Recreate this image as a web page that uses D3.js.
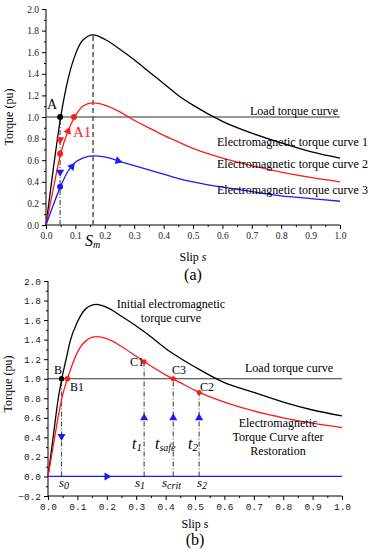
<!DOCTYPE html>
<html>
<head>
<meta charset="utf-8">
<script src="https://cdn.jsdelivr.net/npm/d3@7"></script>
<style>
body { margin: 0; background: #fff; }
svg { display: block; }
</style>
</head>
<body>
<script>
// (a) torque-slip curves
var slipA = [0, 0.02, 0.05, 0.075, 0.1, 0.125, 0.16, 0.2, 0.25, 0.3, 0.35, 0.4, 0.45, 0.5, 0.6, 0.7, 0.8, 0.9, 1.0];
var curve1A = [0, 0.42, 1.0, 1.35, 1.58, 1.71, 1.76, 1.72, 1.63, 1.53, 1.42, 1.31, 1.2, 1.11, 0.96, 0.85, 0.76, 0.68, 0.62];
var curve2A = [0, 0.27, 0.66, 0.87, 1.01, 1.1, 1.13, 1.11, 1.05, 0.97, 0.9, 0.83, 0.77, 0.71, 0.62, 0.55, 0.49, 0.44, 0.40];
var curve3A = [0, 0.15, 0.36, 0.5, 0.58, 0.62, 0.64, 0.63, 0.59, 0.55, 0.51, 0.47, 0.43, 0.40, 0.35, 0.31, 0.27, 0.245, 0.22];

// (b) initial and restored curves
var slipB = [0, 0.02, 0.034, 0.047, 0.066, 0.075, 0.1, 0.13, 0.165, 0.2, 0.25, 0.3, 0.35, 0.4, 0.45, 0.5, 0.6, 0.7, 0.8, 0.9, 1.0];
var initialB = [0, 0.46, 0.78, 1.0, 1.26, 1.38, 1.58, 1.72, 1.76, 1.73, 1.64, 1.54, 1.43, 1.31, 1.21, 1.12, 0.96, 0.86, 0.76, 0.68, 0.62];
var restoredB = [0, 0.35, 0.6, 0.8, 1.0, 1.08, 1.27, 1.39, 1.43, 1.41, 1.33, 1.23, 1.13, 1.04, 0.96, 0.88, 0.76, 0.67, 0.6, 0.545, 0.50];
var zeroB = [0, 0];
var zeroSlipB = [0, 1];

var loadTorque = 1.0;
var sm = 0.16;
var sA = 0.048;
var sB = { s0: 0.046, s1: 0.327, scrit: 0.426, s2: 0.514 };

var xTicks = d3.range(0, 1.01, 0.1);
var xMinor = d3.range(0.05, 1, 0.1);
var yTicksA = d3.range(0, 2.01, 0.2);
var yMinorA = d3.range(0.1, 2, 0.2);
var yTicksB = d3.range(-0.2, 2.01, 0.2);
var yMinorB = d3.range(-0.1, 2, 0.2);

var colors = { black: '#000', red: '#ff1a1a', blue: '#1a1aff', load: '#333', guide: '#555' };

var svg = d3.select('body').append('svg')
	.attr('width', 378)
	.attr('height', 550)
	.style('font-family', '"Liberation Serif", serif');

function drawAxes(g, x, y, yTicks, yMinor, font, fontSize) {
	var fmt = function (d) { return d3.format('.1f')(Math.abs(d) < 1e-9 ? 0 : d).replace('-', '\u2212'); };
	var y0 = y.range()[0];
	var x0 = x.range()[0];

	var xa = g.append('g').attr('transform', 'translate(0,' + y0 + ')')
		.call(d3.axisBottom(x).tickValues(xTicks).tickSize(4).tickFormat(fmt));
	g.append('g').attr('transform', 'translate(0,' + y0 + ')')
		.call(d3.axisBottom(x).tickValues(xMinor).tickSize(2).tickFormat(''))
		.select('.domain').remove();
	var ya = g.append('g').attr('transform', 'translate(' + x0 + ',0)')
		.call(d3.axisLeft(y).tickValues(yTicks).tickSize(4).tickFormat(fmt));
	g.append('g').attr('transform', 'translate(' + x0 + ',0)')
		.call(d3.axisLeft(y).tickValues(yMinor).tickSize(2).tickFormat(''))
		.select('.domain').remove();

	g.selectAll('.domain').attr('d', null);
	xa.select('.domain').attr('d', 'M' + x.range()[0] + ',0H' + x.range()[1]);
	ya.select('.domain').attr('d', 'M0,' + y.range()[0] + 'V' + y.range()[1]);
	g.selectAll('.tick text')
		.style('font-family', font)
		.style('font-size', fontSize + 'px')
		.attr('fill', '#222');
	g.selectAll('.tick line, .domain').attr('stroke', '#000');
}

function points(slip, vals) {
	return slip.map(function (s, i) { return [s, vals[i]]; });
}

function along(slip, vals, s, x, y) {
	var f = function (v) {
		var i = d3.bisectLeft(slip, v);
		i = Math.max(1, Math.min(slip.length - 1, i));
		var t = (v - slip[i - 1]) / (slip[i] - slip[i - 1]);
		return vals[i - 1] + t * (vals[i] - vals[i - 1]);
	};
	var dx = x(s + 0.01) - x(s - 0.01);
	var dy = y(f(s + 0.01)) - y(f(s - 0.01));
	return { t: f(s), a: Math.atan2(dy, dx) * 180 / Math.PI };
}

function tri(g, x, y, s, t, angle, color, size) {
	g.append('path')
		.attr('d', d3.symbol(d3.symbolTriangle, size || 28)())
		.attr('transform', 'translate(' + x(s) + ',' + y(t) + ') rotate(' + (angle + 90) + ')')
		.attr('fill', color);
}

function dot(g, x, y, s, t, color, r) {
	g.append('circle').attr('cx', x(s)).attr('cy', y(t)).attr('r', r || 3).attr('fill', color);
}

function yLabel(g, cx, cy) {
	g.append('text')
		.attr('transform', 'translate(' + cx + ',' + cy + ') rotate(-90)')
		.attr('text-anchor', 'middle')
		.style('font-size', '12px')
		.text('Torque (pu)');
}

// ---------- panel (a)
(function () {
	var x = d3.scaleLinear().domain([0, 1]).range([46, 340]);
	var y = d3.scaleLinear().domain([0, 2]).range([225, 9]);
	var g = svg.append('g');
	var line = d3.line().x(function (d) { return x(d[0]); }).y(function (d) { return y(d[1]); }).curve(d3.curveMonotoneX);

	drawAxes(g, x, y, yTicksA, yMinorA, '"Liberation Serif", serif', 9.5);

	// load torque
	g.append('line').attr('x1', x(0)).attr('x2', x(1)).attr('y1', y(loadTorque)).attr('y2', y(loadTorque))
		.attr('stroke', colors.load).attr('stroke-width', 1.2);

	// guides
	g.append('line').attr('x1', x(sm)).attr('x2', x(sm)).attr('y1', y(0)).attr('y2', y(d3.max(curve1A)))
		.attr('stroke', colors.guide).attr('stroke-width', 1.5).attr('stroke-dasharray', '5,3');
	g.append('line').attr('x1', x(sA)).attr('x2', x(sA)).attr('y1', y(0)).attr('y2', y(loadTorque))
		.attr('stroke', colors.guide).attr('stroke-width', 1.2).attr('stroke-dasharray', '5,2,1,2');

	[[curve1A, colors.black], [curve2A, colors.red], [curve3A, colors.blue]].forEach(function (c) {
		g.append('path').attr('d', line(points(slipA, c[0])))
			.attr('fill', 'none').attr('stroke', c[1]).attr('stroke-width', 1.3);
	});

	// markers
	dot(g, x, y, sA, loadTorque, colors.black);
	dot(g, x, y, 0.095, loadTorque, colors.red);
	dot(g, x, y, sA, 0.66, colors.red);
	dot(g, x, y, sA, 0.355, colors.blue);
	tri(g, x, y, sA, 0.79, 90, colors.red);
	tri(g, x, y, sA, 0.49, 90, colors.blue);
	var m = along(slipA, curve2A, 0.075, x, y);
	tri(g, x, y, 0.075, m.t, m.a, colors.red);
	m = along(slipA, curve3A, 0.088, x, y);
	tri(g, x, y, 0.088, m.t, m.a, colors.blue);
	m = along(slipA, curve3A, 0.245, x, y);
	tri(g, x, y, 0.245, m.t, m.a, colors.blue);

	// annotations
	g.append('text').attr('x', x(sA) - 3).attr('y', y(loadTorque) - 8).attr('text-anchor', 'end')
		.style('font-size', '14px').text('A');
	g.append('text').attr('x', 73).attr('y', 137).attr('fill', colors.red)
		.style('font-size', '15px').text('A1');
	var smt = g.append('text').attr('x', 85).attr('y', 246).style('font-size', '16px').style('font-style', 'italic');
	smt.append('tspan').text('S');
	smt.append('tspan').attr('dy', 2).style('font-size', '10px').text('m');

	g.append('text').attr('x', 250).attr('y', 115).style('font-size', '12px').text('Load torque curve');
	['Electromagnetic torque curve 1', 'Electromagnetic torque curve 2', 'Electromagnetic torque curve 3']
		.forEach(function (t, i) {
			g.append('text').attr('x', 217).attr('y', [146, 168, 194][i]).style('font-size', '12px').text(t);
		});

	yLabel(g, 13, 117);
	var xl = g.append('text').attr('x', 193).attr('y', 261).attr('text-anchor', 'middle').style('font-size', '12px');
	xl.append('tspan').text('Slip ');
	xl.append('tspan').style('font-style', 'italic').text('s');
	g.append('text').attr('x', 193).attr('y', 280).attr('text-anchor', 'middle').style('font-size', '16px').text('(a)');
})();

// ---------- panel (b)
(function () {
	var x = d3.scaleLinear().domain([0, 1]).range([48, 342]);
	var y = d3.scaleLinear().domain([-0.2, 2]).range([496, 281]);
	var g = svg.append('g');
	var line = d3.line().x(function (d) { return x(d[0]); }).y(function (d) { return y(d[1]); }).curve(d3.curveMonotoneX);

	drawAxes(g, x, y, yTicksB, yMinorB, '"Liberation Mono", monospace', 9.5);

	g.append('line').attr('x1', x(0)).attr('x2', x(1)).attr('y1', y(loadTorque)).attr('y2', y(loadTorque))
		.attr('stroke', colors.load).attr('stroke-width', 1.2);

	// vertical dash-dot guides
	[[sB.s0, loadTorque], [sB.s1, 1.175], [sB.scrit, loadTorque], [sB.s2, 0.86]].forEach(function (v) {
		g.append('line').attr('x1', x(v[0])).attr('x2', x(v[0])).attr('y1', y(0)).attr('y2', y(v[1]))
			.attr('stroke', colors.guide).attr('stroke-width', 1.2).attr('stroke-dasharray', '5,2,1,2');
	});

	g.append('path').attr('d', line(points(slipB, initialB)))
		.attr('fill', 'none').attr('stroke', colors.black).attr('stroke-width', 1.3);
	g.append('path').attr('d', line(points(slipB, restoredB)))
		.attr('fill', 'none').attr('stroke', colors.red).attr('stroke-width', 1.3);
	g.append('path').attr('d', line(points(zeroSlipB, zeroB)))
		.attr('fill', 'none').attr('stroke', colors.blue).attr('stroke-width', 1.3);

	dot(g, x, y, sB.s0, loadTorque, colors.black, 2.7);
	dot(g, x, y, 0.066, loadTorque, colors.red, 2.7);
	dot(g, x, y, sB.s1, 1.175, colors.red, 2.5);
	dot(g, x, y, sB.scrit, loadTorque, colors.red, 2.5);
	dot(g, x, y, sB.s2, 0.86, colors.red, 2.5);
	tri(g, x, y, sB.s0, 0.41, 90, colors.blue);
	[sB.s1, sB.scrit, sB.s2].forEach(function (s) { tri(g, x, y, s, 0.6, -90, colors.blue); });
	tri(g, x, y, 0.2, 0, 0, colors.blue);

	var lab = function (t, px, py, opts) {
		var e = g.append('text').attr('x', px).attr('y', py).style('font-size', (opts && opts.size || 12) + 'px');
		if (opts && opts.anchor) e.attr('text-anchor', opts.anchor);
		e.text(t);
		return e;
	};
	lab('B', 54, 374);
	lab('B1', 70, 391);
	lab('C1', 130, 366);
	lab('C3', 172, 374);
	lab('C2', 200, 391);
	lab('Load torque curve', 245, 372);
	lab('Initial electromagnetic', 171, 308, { anchor: 'middle' });
	lab('torque curve', 171, 322, { anchor: 'middle' });
	lab('Electromagnetic', 278, 427, { anchor: 'middle' });
	lab('Torque Curve after', 278, 441, { anchor: 'middle' });
	lab('Restoration', 278, 455, { anchor: 'middle' });

	var sub = function (main, s, px, py, size, subSize) {
		var e = g.append('text').attr('x', px).attr('y', py).style('font-style', 'italic').style('font-size', size + 'px');
		e.append('tspan').text(main);
		e.append('tspan').attr('dy', 2).style('font-size', subSize + 'px').text(s);
	};
	sub('t', '1', 132, 449, 16, 11);
	sub('t', 'safe', 155, 449, 16, 10);
	sub('t', '2', 188, 449, 16, 11);
	sub('s', '0', 59, 487, 13, 10);
	sub('s', '1', 135, 487, 13, 10);
	sub('s', 'crit', 162, 487, 13, 10);
	sub('s', '2', 197, 487, 13, 10);

	yLabel(g, 12, 384);
	lab('Slip s', 195, 528, { anchor: 'middle' });
	lab('(b)', 195, 545, { anchor: 'middle', size: 16 });
})();
</script>
</body>
</html>
